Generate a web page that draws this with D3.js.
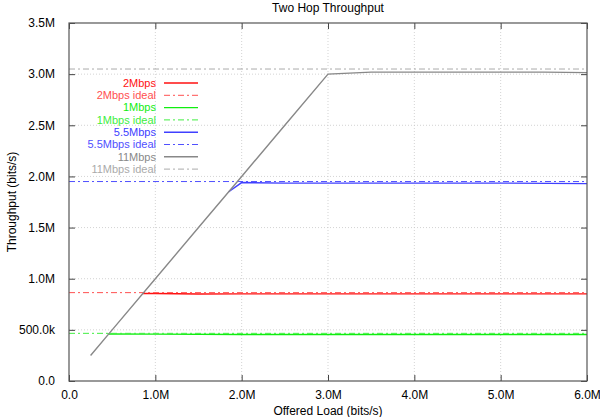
<html>
<script src="https://d3js.org/d3.v7.min.js"></script>
<style>
body{margin:0;background:#fff;}
svg{font-family:"Liberation Sans",Arial,sans-serif;}
</style>
<div id="chart"></div>
<script>
const width = 600;
const height = 417;
const margin = { top: 23, left: 69, bottom: 36, right: 13 };
const plotWidth = width - (margin.left + margin.right);
const plotHeight = height - (margin.top + margin.bottom);

// offered load (bits/s) per series
const load11 = [0.25e6, 0.5e6, 1.0e6, 1.5e6, 2.0e6, 2.5e6, 3.0e6, 3.5e6, 4.0e6, 4.5e6, 5.0e6, 5.5e6, 6.0e6];
const thr11 = [0.25e6, 0.5e6, 1.0e6, 1.5e6, 2.0e6, 2.5e6, 3.0e6, 3.02e6, 3.02e6, 3.02e6, 3.02e6, 3.02e6, 3.015e6];

const load55 = [1.85e6, 2.0e6, 2.5e6, 3.0e6, 4.0e6, 5.0e6, 6.0e6];
const thr55 = [1.85e6, 1.94e6, 1.935e6, 1.935e6, 1.935e6, 1.935e6, 1.93e6];

const load2 = [0.855e6, 1.0e6, 1.5e6, 2.0e6, 3.0e6, 4.0e6, 5.0e6, 6.0e6];
const thr2 = [0.856e6, 0.855e6, 0.85e6, 0.852e6, 0.852e6, 0.852e6, 0.852e6, 0.852e6];

const load1 = [0.455e6, 1.0e6, 2.0e6, 3.0e6, 4.0e6, 5.0e6, 6.0e6];
const thr1 = [0.46e6, 0.458e6, 0.455e6, 0.455e6, 0.455e6, 0.455e6, 0.455e6];

const ideal2 = 0.864e6;
const ideal1 = 0.466e6;
const ideal55 = 1.95e6;
const ideal11 = 3.05e6;

const xTicks = [0, 1e6, 2e6, 3e6, 4e6, 5e6, 6e6];
const xTickLabels = ['0.0', '1.0M', '2.0M', '3.0M', '4.0M', '5.0M', '6.0M'];
const yTicks = [0, 0.5e6, 1e6, 1.5e6, 2e6, 2.5e6, 3e6, 3.5e6];
const yTickLabels = ['0.0', '500.0k', '1.0M', '1.5M', '2.0M', '2.5M', '3.0M', '3.5M'];

const seriesNames = ['2Mbps', '2Mbps ideal', '1Mbps', '1Mbps ideal', '5.5Mbps', '5.5Mbps ideal', '11Mbps', '11Mbps ideal'];
const seriesColors = ['#ff1010', '#ff5050', '#10ee10', '#40ee40', '#4040ff', '#5050ff', '#888888', '#aaaaaa'];

const dashDot = '6,3,2,3';

const xScale = d3.scaleLinear().domain([0, 6e6]).range([0, plotWidth]);
const yScale = d3.scaleLinear().domain([0, 3.5e6]).range([plotHeight, 0]);

const svg = d3.select('#chart').append('svg')
  .attr('width', width)
  .attr('height', height);

const g = svg.append('g')
  .attr('transform', `translate(${margin.left},${margin.top})`);

// grid
g.selectAll('.gx').data(xTicks.slice(1, -1)).enter().append('line')
  .attr('x1', d => xScale(d)).attr('x2', d => xScale(d))
  .attr('y1', 0).attr('y2', plotHeight)
  .attr('stroke', '#c8c8c8').attr('stroke-width', 0.8).attr('stroke-dasharray', '1,2');
g.selectAll('.gy').data(yTicks.slice(1, -1)).enter().append('line')
  .attr('x1', 0).attr('x2', plotWidth)
  .attr('y1', d => yScale(d)).attr('y2', d => yScale(d))
  .attr('stroke', '#c8c8c8').attr('stroke-width', 0.8).attr('stroke-dasharray', '1,2');

// axes with inward ticks, mirrored
const axisFont = g => g.selectAll('text').attr('font-size', 12).attr('fill', '#000')
  .attr('font-family', '"Liberation Sans",Arial,sans-serif');

g.append('g').attr('transform', `translate(0,${plotHeight})`)
  .call(d3.axisBottom(xScale).tickValues(xTicks).tickFormat((d, i) => xTickLabels[i]).tickSizeInner(-6).tickSizeOuter(0).tickPadding(9))
  .call(axisFont)
  .call(a => a.select('.domain').remove());
g.append('g')
  .call(d3.axisTop(xScale).tickValues(xTicks).tickFormat('').tickSizeInner(-6).tickSizeOuter(0))
  .call(a => a.select('.domain').remove());
g.append('g')
  .call(d3.axisLeft(yScale).tickValues(yTicks).tickFormat((d, i) => yTickLabels[i]).tickSizeInner(-6).tickSizeOuter(0).tickPadding(14))
  .call(axisFont)
  .call(a => a.select('.domain').remove());
g.append('g').attr('transform', `translate(${plotWidth},0)`)
  .call(d3.axisRight(yScale).tickValues(yTicks).tickFormat('').tickSizeInner(-6).tickSizeOuter(0))
  .call(a => a.select('.domain').remove());
g.selectAll('.tick line').attr('stroke', '#444').attr('stroke-width', 1);

const line = d3.line().x(d => xScale(d[0])).y(d => yScale(d[1]));

const series = [
  { name: seriesNames[0], pts: d3.zip(load2, thr2), color: seriesColors[0], dash: null },
  { name: seriesNames[1], pts: [[0, ideal2], [6e6, ideal2]], color: seriesColors[1], dash: dashDot },
  { name: seriesNames[2], pts: d3.zip(load1, thr1), color: seriesColors[2], dash: null },
  { name: seriesNames[3], pts: [[0, ideal1], [6e6, ideal1]], color: seriesColors[3], dash: dashDot },
  { name: seriesNames[4], pts: d3.zip(load55, thr55), color: seriesColors[4], dash: null },
  { name: seriesNames[5], pts: [[0, ideal55], [6e6, ideal55]], color: seriesColors[5], dash: dashDot },
  { name: seriesNames[6], pts: d3.zip(load11, thr11), color: seriesColors[6], dash: null },
  { name: seriesNames[7], pts: [[0, ideal11], [6e6, ideal11]], color: seriesColors[7], dash: dashDot }
];

g.selectAll('.series').data(series).enter().append('path')
  .attr('d', d => line(d.pts))
  .attr('fill', 'none')
  .attr('stroke', d => d.color)
  .attr('stroke-width', d => d.dash ? 1 : 1.4)
  .attr('stroke-dasharray', d => d.dash);

// border
g.append('rect').attr('width', plotWidth).attr('height', plotHeight)
  .attr('fill', 'none').attr('stroke', '#555').attr('stroke-width', 1.2);

// legend
const legend = g.selectAll('.legend').data(series).enter().append('g')
  .attr('transform', (d, i) => `translate(0,${60 + i * 12.3})`);
legend.append('text')
  .attr('x', 87).attr('y', 0).attr('dy', '0.35em')
  .attr('text-anchor', 'end').attr('font-size', 11)
  .attr('fill', d => d.color)
  .text(d => d.name);
legend.append('line')
  .attr('x1', 95).attr('x2', 129).attr('y1', 0).attr('y2', 0)
  .attr('stroke', d => d.color)
  .attr('stroke-width', d => d.dash ? 1 : 1.4)
  .attr('stroke-dasharray', d => d.dash);

// titles
svg.append('text').attr('x', margin.left + plotWidth / 2).attr('y', 12)
  .attr('text-anchor', 'middle').attr('font-size', 12).text('Two Hop Throughput');
svg.append('text').attr('x', margin.left + plotWidth / 2).attr('y', 415)
  .attr('text-anchor', 'middle').attr('font-size', 12).text('Offered Load (bits/s)');
svg.append('text')
  .attr('transform', `translate(16,${margin.top + plotHeight / 2}) rotate(-90)`)
  .attr('text-anchor', 'middle').attr('font-size', 12).text('Throughput (bits/s)');
</script>
</html>
